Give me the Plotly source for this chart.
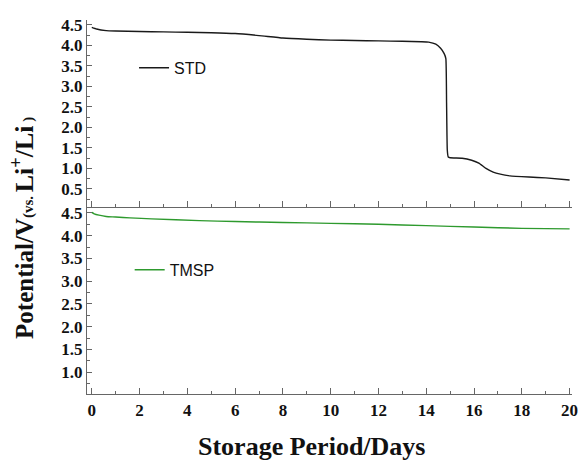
import plotly.graph_objects as go
from plotly.subplots import make_subplots

# STD cell: storage period (days) vs potential (V vs Li+/Li)
std_days = [0.0, 0.2, 0.6, 1.0, 2.0, 3.0, 4.0, 5.0, 6.0, 7.0, 8.0, 9.0, 10.0, 11.0, 12.0,
            13.0, 13.8, 14.1, 14.4, 14.6, 14.75, 14.82, 14.85, 14.88, 14.92, 15.0, 15.5,
            15.9, 16.2, 16.5, 16.8, 17.1, 17.5, 18.3, 19.0, 20.0]
std_volt = [4.44, 4.40, 4.36, 4.35, 4.34, 4.33, 4.32, 4.31, 4.29, 4.24, 4.18, 4.15, 4.13, 4.12, 4.11,
            4.10, 4.09, 4.08, 4.03, 3.93, 3.80, 3.68, 2.60, 1.45, 1.28, 1.26, 1.25,
            1.20, 1.13, 1.00, 0.91, 0.86, 0.82, 0.79, 0.77, 0.72]

# TMSP cell
tmsp_days = [0.0, 0.1, 0.3, 0.6, 1.0, 1.6, 2.5, 4.5, 6.0, 8.0, 10.0, 12.0, 14.0, 16.0, 18.0, 20.0]
tmsp_volt = [4.51, 4.48, 4.45, 4.42, 4.41, 4.39, 4.37, 4.33, 4.31, 4.29, 4.27, 4.25, 4.22, 4.19, 4.16, 4.15]

x_ticks = list(range(0, 21, 2))
y_ticks = [0.5, 1.0, 1.5, 2.0, 2.5, 3.0, 3.5, 4.0, 4.5]

fig = make_subplots(rows=2, cols=1, shared_xaxes=False, vertical_spacing=0)

fig.add_trace(go.Scatter(x=std_days, y=std_volt, mode="lines", name="STD",
                         line=dict(color="#1a1a1a", width=1.4, shape="spline", smoothing=0.4),
                         legend="legend"), row=1, col=1)
fig.add_trace(go.Scatter(x=tmsp_days, y=tmsp_volt, mode="lines", name="TMSP",
                         line=dict(color="#2e9a2e", width=1.4, shape="spline", smoothing=0.6),
                         legend="legend2"), row=2, col=1)

tickfont_y = dict(family="Liberation Serif", size=17, color="#111")
tickfont_x = dict(family="Liberation Serif", size=17, color="#111")
axcol = "#666"

common_x = dict(range=[-0.2, 20.1], tickvals=x_ticks, ticks="inside", ticklen=6, tickcolor=axcol,
                showline=True, linecolor=axcol, linewidth=1.2, showgrid=False, zeroline=False,
                automargin=False,
                minor=dict(dtick=1, ticks="inside", ticklen=3, tickcolor=axcol))
fig.update_xaxes(**common_x, showticklabels=False, row=1, col=1)
fig.update_xaxes(**common_x, showticklabels=True, tickfont=tickfont_x,
                 ticktext=[f"<b>{v}</b>" for v in x_ticks], row=2, col=1)

common_y = dict(tickvals=y_ticks, ticktext=[f"<b>{v:.1f}</b>" for v in y_ticks],
                ticks="inside", ticklen=5, tickcolor=axcol, showline=True, linecolor=axcol,
                linewidth=1.2, showgrid=False, zeroline=False, tickfont=tickfont_y,
                automargin=False,
                minor=dict(dtick=0.25, ticks="inside", ticklen=3, tickcolor=axcol))
fig.update_yaxes(**common_y, range=[0.06, 4.62], row=1, col=1)
fig.update_yaxes(**common_y, range=[0.52, 4.63], row=2, col=1)

ytitle = ("<span style='font-size:25px'><b>Potential/V</b></span>"
          "<span style='font-size:15px'><b>(vs. </b></span>"
          "<span style='font-size:26px'><b>Li</b></span>"
          "<span style='font-size:26px'><sup><b>+</b></sup></span>"
          "<span style='font-size:26px'><b>/Li</b></span>"
          "<span style='font-size:15px'><b> )</b></span>")

fig.update_layout(
    width=580, height=461,
    margin=dict(l=87, r=8, t=20, b=67, autoexpand=False),
    paper_bgcolor="white", plot_bgcolor="white",
    showlegend=True,
    legend=dict(x=0.097, y=0.872, xanchor="left", yanchor="middle", bgcolor="rgba(0,0,0,0)",
                font=dict(family="Liberation Sans", size=16, color="#111")),
    legend2=dict(x=0.088, y=0.332, xanchor="left", yanchor="middle", bgcolor="rgba(0,0,0,0)",
                 font=dict(family="Liberation Sans", size=16, color="#111")),
    annotations=[
        dict(text=ytitle,
             xref="paper", yref="paper", x=-0.132, y=0.444, xanchor="center", yanchor="middle",
             textangle=-90, showarrow=False,
             font=dict(family="Liberation Serif", size=25, color="#111")),
        dict(text="<b>Storage Period/Days</b>", xref="paper", yref="paper",
             x=0.463, y=-0.14, xanchor="center", yanchor="middle", showarrow=False,
             font=dict(family="Liberation Serif", size=26, color="#111")),
    ],
)

fig.write_html("out.html", config={"displayModeBar": False},
               post_script="document.body.style.margin='0';document.body.style.overflow='hidden';")
